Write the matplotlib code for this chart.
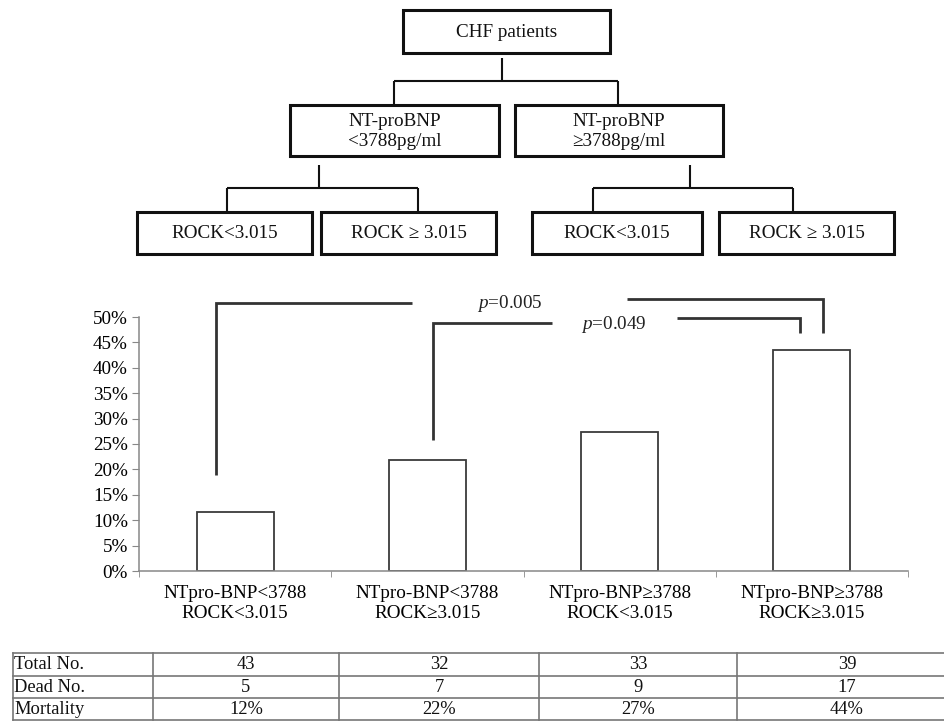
import matplotlib.pyplot as plt
from matplotlib.patches import Rectangle

plt.rcParams['font.family'] = ['Liberation Serif', 'DejaVu Serif']
plt.rcParams['mathtext.fontset'] = 'custom'
plt.rcParams['mathtext.rm'] = 'Liberation Serif'
plt.rcParams['mathtext.it'] = 'Liberation Serif:italic'

# data
groups = ["NTpro-BNP<3788\nROCK<3.015", "NTpro-BNP<3788\nROCK≥3.015",
          "NTpro-BNP≥3788\nROCK<3.015", "NTpro-BNP≥3788\nROCK≥3.015"]
mortality = [0.1163, 0.2188, 0.2727, 0.4359]
total_no = [43, 32, 33, 39]
dead_no = [5, 7, 9, 17]
mortality_txt = ["12%", "22%", "27%", "44%"]
row_names = ["Total No.", "Dead No.", "Mortality"]
yticks = [0, 0.05, 0.10, 0.15, 0.20, 0.25, 0.30, 0.35, 0.40, 0.45, 0.50]
p_values = ["0.005", "0.049"]

# flowchart texts
top_box = "CHF patients"
mid_boxes = ["NT-proBNP\n<3788pg/ml", "NT-proBNP\n≥3788pg/ml"]
low_boxes = ["ROCK<3.015", "ROCK ≥ 3.015", "ROCK<3.015", "ROCK ≥ 3.015"]

W, H = 944, 721
fig = plt.figure(figsize=(W / 100, H / 100), dpi=100)

# overlay axes in pixel coordinates for the flowchart and the table
ov = fig.add_axes([0, 0, 1, 1])
ov.set_xlim(0, W)
ov.set_ylim(H, 0)
ov.axis('off')

def box(x0, x1, y0, y1, txt):
    ov.add_patch(Rectangle((x0, y0), x1 - x0, y1 - y0, fill=False,
                           edgecolor='#111111', lw=2.2))
    ov.text((x0 + x1) / 2, (y0 + y1) / 2 + 1, txt, ha='center', va='center',
            fontsize=13.8, linespacing=1.2, color='#111111')

def line(xs, ys, lw=1.5):
    ov.plot(xs, ys, color='#111111', lw=lw, solid_capstyle='butt')

box(403, 610, 10, 53, top_box)
box(290, 499, 105, 156, mid_boxes[0])
box(515, 723, 105, 156, mid_boxes[1])
low_x = [(137, 312), (321, 496), (532, 702), (719, 894)]
for (a, b), t in zip(low_x, low_boxes):
    box(a, b, 212, 254, t)

line([502, 502], [58, 81])
line([394, 618], [81, 81])
line([394, 394], [81, 105])
line([618, 618], [81, 105])
line([319, 319], [165, 188])
line([227, 418], [188, 188])
line([227, 227], [188, 212])
line([418, 418], [188, 212])
line([690, 690], [165, 188])
line([593, 793], [188, 188])
line([593, 593], [188, 212])
line([793, 793], [188, 212])

# bar chart
ax = fig.add_axes([139 / W, (H - 571) / H, (908 - 139) / W, (571 - 317) / H])
x = range(len(groups))
ax.bar(x, mortality, width=0.40, color='white', edgecolor='#3a3a3a', lw=1.3)
ax.set_xlim(-0.5, 3.5)
ax.set_ylim(0, 0.5)
ax.set_yticks(yticks)
ax.set_yticklabels([f"{round(v * 100)}%" for v in yticks], fontsize=13.8)
ax.set_xticks(list(x))
ax.set_xticklabels(groups, fontsize=13.8, linespacing=1.25)
ax.set_xticks([-0.5, 0.5, 1.5, 2.5, 3.5], minor=True)
ax.tick_params(axis='x', which='major', length=0, pad=10)
ax.tick_params(axis='x', which='minor', length=4, direction='out', color='#888888')
ax.tick_params(axis='y', length=5, direction='out', color='#888888', pad=3)
for s in ['top', 'right']:
    ax.spines[s].set_visible(False)
for s in ['left', 'bottom']:
    ax.spines[s].set_color('#888888')
    ax.spines[s].set_linewidth(1.1)

def br(xs, ys):
    ax.plot(xs, ys, color='#333333', lw=2.0, clip_on=False,
            solid_capstyle='butt', solid_joinstyle='miter')

# significance brackets
br([-0.10, -0.10, 0.92], [0.189, 0.528, 0.528])
br([2.04, 3.06, 3.06], [0.536, 0.536, 0.469])
br([1.03, 1.03, 1.65], [0.258, 0.488, 0.488])
br([2.30, 2.94, 2.94], [0.498, 0.498, 0.469])
ax.text(1.43, 0.526, f"$p$={p_values[0]}", ha='center', va='center',
        fontsize=13.8, color='#222222')
ax.text(1.97, 0.486, f"$p$={p_values[1]}", ha='center', va='center',
        fontsize=13.8, color='#222222')

# table at the bottom
row_y = [653, 676, 698, 720]
col_x = [13, 153, 339, 539, 737]
centers = [246, 439, 638, 847]
gc = '#777777'
for yy in row_y:
    ov.plot([13, W], [yy, yy], color=gc, lw=1.2)
for xx in col_x:
    ov.plot([xx, xx], [653, 720], color=gc, lw=1.2)
rows = [[str(v) for v in total_no], [str(v) for v in dead_no], mortality_txt]
for i, (name, vals) in enumerate(zip(row_names, rows)):
    yc = (row_y[i] + row_y[i + 1]) / 2
    ov.text(14, yc, name, ha='left', va='center', fontsize=13.3, color='#111111')
    for cx, v in zip(centers, vals):
        ov.text(cx, yc, v, ha='center', va='center', fontsize=13.3, color='#111111')

fig.savefig("out.png", dpi=100)
